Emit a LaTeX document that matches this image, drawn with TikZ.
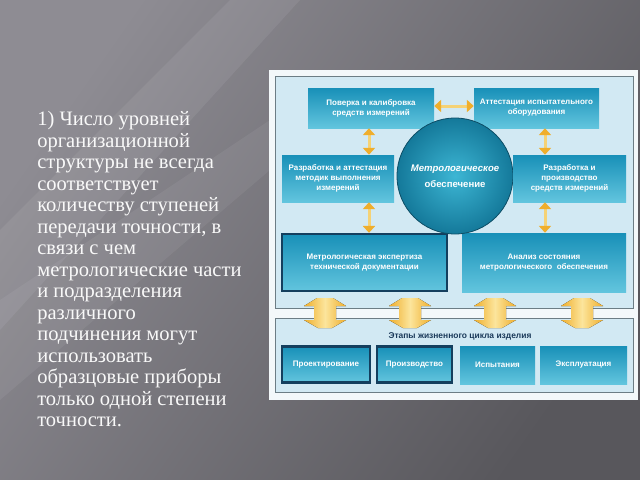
\documentclass[tikz,border=0pt]{standalone}
\usepackage{fontspec}
\setmainfont{Liberation Serif}
\newfontfamily\boxfont{Liberation Sans}
\usetikzlibrary{arrows.meta}

\definecolor{bglight}{HTML}{8E8C93}
\definecolor{bgdark}{HTML}{58575C}
\definecolor{framefill}{HTML}{F3F8FA}
\definecolor{panelfill}{HTML}{D2E9F3}
\definecolor{paneledge}{HTML}{6C7D85}
\definecolor{boxtop}{HTML}{1890B8}
\definecolor{boxbot}{HTML}{62C5DE}
\definecolor{boxedge}{HTML}{143F5E}
\definecolor{circin}{HTML}{3DB6D4}
\definecolor{circout}{HTML}{14799A}
\definecolor{circedge}{HTML}{0D4E66}
\definecolor{arrgold}{HTML}{EFAE2C}
\definecolor{arrlight}{HTML}{FCE59C}
\definecolor{arrshaft}{HTML}{F5D275}
\definecolor{stagetext}{HTML}{1B3A5A}

\newcommand{\pxu}{0.025cm}
\newcommand{\bigarrow}[1]{%
  \fill[bigarr] (#1-8,298) -- (#1+8,298) -- (#1+21,306) -- (#1+11,306) -- (#1+11,320) -- (#1+21,320)
    -- (#1+7,328) -- (#1-7,328) -- (#1-21,320) -- (#1-11,320) -- (#1-11,306) -- (#1-21,306) -- cycle;%
}

\tikzset{
  blk/.style={top color=boxtop, bottom color=boxbot, draw=none, text=white, align=center,
    inner sep=0pt, font=\boxfont\bfseries\fontsize{5.7}{7.1}\selectfont},
  blkframe/.style={blk, draw=boxedge, line width=0.06cm},
  panel/.style={fill=panelfill, draw=paneledge, line width=0.02cm},
  sarr/.style={draw=arrshaft, line width=0.075cm, >={Triangle[width=0.3cm,length=0.17cm,color=arrgold]}, <->},
  bigarr/.style={left color=arrgold, right color=arrgold, middle color=arrlight},
}

\begin{document}
\begin{tikzpicture}[x=0.025cm, y=-0.025cm]
\useasboundingbox (0,0) rectangle (640,480);

% Drawing slide background
\shade[shading=axis, top color=bglight, bottom color=bgdark, shading angle=55] (0,0) rectangle (640,480);%
\fill[white, opacity=0.07] (0,230) -- (230,0) -- (300,0) -- (0,330) -- cycle;%
\fill[white, opacity=0.06] (0,300) -- (270,120) -- (270,170) -- (0,400) -- cycle;%

% Marking the note text
\node[anchor=north west, align=left, inner sep=0pt, text=white!95!gray,
  font=\fontsize{14.6}{15.3}\selectfont] (note) at (37,111)
  {1) Число уровней\\ организационной\\ структуры не всегда\\ соответствует\\ количеству ступеней\\
   передачи точности, в\\ связи с чем\\ метрологические части\\ и подразделения\\ различного\\
   подчинения могут\\ использовать\\ образцовые приборы\\ только одной степени\\ точности.};%

% Drawing frame and panels
\fill[framefill] (269,70) rectangle (638,400);%
\draw[panel] (275,76) rectangle (633,308);%
\draw[panel] (275,318) rectangle (633,392);%

% Drawing boxes of the upper panel
\node[blk, minimum width=126*\pxu, minimum height=40*\pxu] (pov) at (371,108)
  {Поверка и калибровка\\ средств измерений};%
\node[blk, minimum width=125*\pxu, minimum height=40*\pxu] (att) at (536.5,108)
  {Аттестация испытательного\\ оборудования};%
\node[blk, minimum width=112*\pxu, minimum height=47*\pxu] (razrM) at (338,178.5)
  {Разработка и аттестация\\ методик выполнения\\ измерений};%
\node[blkframe, minimum width=165*\pxu, minimum height=57*\pxu] (ekspert) at (364.5,262.5)
  {Метрологическая экспертиза\\ технической документации};%
\node[blk, minimum width=164*\pxu, minimum height=59*\pxu] (analiz) at (544,262.5)
  {Анализ состояния\\ метрологического~~обеспечения};%

% Drawing circle of metrological support
\node[circle, minimum size=116*\pxu, inner sep=0pt, inner color=circin, outer color=circout,
  draw=circedge, line width=0.02cm, text=white, align=center,
  font=\boxfont\bfseries\fontsize{6.8}{11.4}\selectfont] (metr) at (455,176)
  {\textit{Метрологическое}\\ обеспечение};%
\node[blk, minimum width=113*\pxu, minimum height=47*\pxu] (razrS) at (569.5,178.5)
  {Разработка и\\ производство\\ средств измерений};%

% Drawing small arrows
\coordinate (xl) at (369,0);%
\coordinate (xr) at (545,0);%
\coordinate (yt) at (0,106);%
\draw[sarr] (pov.east |- yt) -- (att.west |- yt);%
\draw[sarr] (xl |- pov.south) -- (xl |- razrM.north);%
\draw[sarr] (xl |- razrM.south) -- (xl |- ekspert.north);%
\draw[sarr] (xr |- att.south) -- (xr |- razrS.north);%
\draw[sarr] (xr |- razrS.south) -- (xr |- analiz.north);%

% Drawing lower panel
\node[font=\boxfont\bfseries\fontsize{6}{7}\selectfont, text=stagetext, inner sep=0pt] (stage) at (460,336)
  {Этапы жизненного цикла изделия};%
\node[blkframe, minimum width=88*\pxu, minimum height=36*\pxu] (proekt) at (326,364.5) {Проектирование};%
\node[blkframe, minimum width=75*\pxu, minimum height=36*\pxu] (proizv) at (414.5,364.5) {Производство};%
\node[blk, minimum width=75*\pxu, minimum height=38*\pxu] (ispyt) at (497.5,365) {Испытания};%
\node[blk, minimum width=87*\pxu, minimum height=38*\pxu] (ekspl) at (583.5,365) {Эксплуатация};%

% Drawing big arrows between panels
\bigarrow{325}
\bigarrow{410}
\bigarrow{495}
\bigarrow{582}
\end{tikzpicture}
\end{document}
